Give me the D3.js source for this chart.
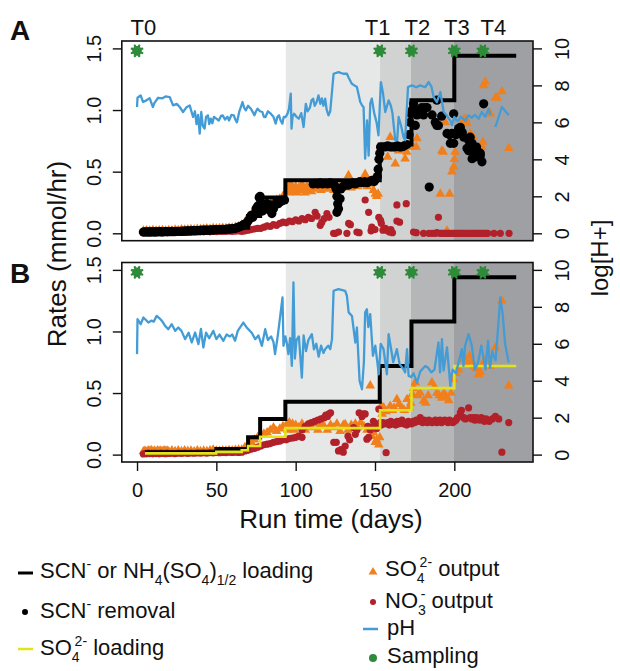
<!DOCTYPE html>
<html>
<head>
<meta charset="utf-8">
<script src="https://cdn.jsdelivr.net/npm/d3@7"></script>
<style>
  body { margin: 0; background: #fff; }
  text { font-family: "Liberation Sans", Arial, Helvetica, sans-serif; fill: #111; }
</style>
</head>
<body>
<svg id="chart" width="620" height="671"></svg>
<script>
// ---- data (days, rates in mmol/hr, pH on right axis) ----
var sampleDays = [0, 153, 173, 200, 218]
var sampleLevel = 1.48
var sampleNames = ['T0', 'T1', 'T2', 'T3', 'T4']
var sampleLabelDays = [4, 151.7, 176.7, 201.6, 224.6]

var zoneEdges = [93.8, 153.2, 172.7, 199.8, 249.6]
var zoneFills = ['#e6e7e7', '#d1d2d2', '#b5b6b7', '#9fa0a3']

var rateTicks = [0, 0.5, 1, 1.5]
var phTicks = [0, 2, 4, 6, 8, 10]
var dayTicks = [0, 50, 100, 150, 200]

// SCN- or NH4(SO4)1/2 loading (step)
var loading = [[5,0.02],[50,0.045],[70,0.14],[77.6,0.29],[93.5,0.43],[153,0.72],[173,1.08],[200,1.44],[239,1.44]]
// SO4 2- loading (step, panel B)
var so4Loading = [[5,0.01],[50,0.022],[66,0.035],[70,0.07],[77.6,0.145],[93.5,0.215],[153.2,0.36],[173,0.54],[200,0.72],[239,0.72]]

// Panel A: SCN- removal
var scnRemovalA = [[4,0.01],[5,0.012],[6,0.01],[7,0.011],[8,0.01],[9,0.012],[10,0.011],[11,0.01],[12,0.012],[13,0.011],[14,0.013],[15,0.012],[16,0.011],[17,0.013],[18,0.014],[19,0.012],[20,0.014],[21,0.013],[22,0.015],[23,0.013],[24,0.014],[25,0.015],[27,0.016],[28,0.015],[29,0.018],[30,0.016],[31,0.019],[32,0.018],[33,0.02],[34,0.018],[35,0.021],[36,0.022],[37,0.02],[38,0.022],[39,0.021],[40,0.023],[41,0.025],[42,0.023],[43,0.025],[44,0.026],[45,0.024],[46,0.026],[47,0.028],[48,0.026],[49,0.029],[50,0.03],[51,0.029],[52,0.031],[53,0.03],[54,0.032],[55,0.031],[56,0.033],[57,0.035],[58,0.034],[59,0.036],[60,0.037],[61,0.039],[62,0.041],[63,0.045],[64,0.05],[65,0.055],[66,0.06],[67,0.068],[68,0.075],[69,0.08],[70,0.1],[71,0.12],[72,0.146],[73,0.13],[74,0.155],[75,0.2],[76,0.22],[77,0.29],[77.6,0.3],[78,0.25],[79,0.18],[79.7,0.2],[80.5,0.23],[81.8,0.24],[82.5,0.2],[83.5,0.19],[84.2,0.23],[85,0.16],[86,0.2],[87,0.23],[88,0.25],[89,0.24],[90,0.255],[91,0.26],[92,0.27],[93,0.27],
  [111,0.4],[112.5,0.405],[114,0.4],[115.5,0.41],[117,0.4],[118.5,0.405],[120,0.4],[121.5,0.41],[123,0.405],[124.5,0.39],[125.5,0.36],[126,0.3],[126.5,0.24],[126,0.17],[127,0.2],[128,0.28],[128.5,0.36],[130,0.38],[131.5,0.4],[133,0.39],[134.5,0.4],[136,0.41],[137.5,0.4],[139,0.41],[140.5,0.42],[142,0.41],[143.5,0.42],[145,0.41],[146.5,0.42],[148,0.43],[149.5,0.42],[150.5,0.44],[151.5,0.46],[152,0.52],[152.5,0.6],[153,0.65],[153.5,0.7],[155,0.7],[156.5,0.7],[158,0.71],[159.5,0.7],[161,0.7],[162.5,0.7],[164,0.71],[165.5,0.7],[167,0.7],[168.5,0.71],[170,0.72],[171.5,0.8],[172,0.9],[172.5,0.97],[173.5,1.0],[174.3,1.05],[175,0.98],[175.4,0.875],[176.5,0.96],[178,1.0],[179.5,1.02],[180.6,0.96],[181.7,1.02],[182.8,1.02],[184.2,0.375],[186,0.96],[188,0.9],[189,1.08],[189,0.875],[190,0.875],[192,0.95],[195.4,0.81],[197,0.8],[197.5,0.73],[198.5,0.81],[199.6,0.97],[199.6,0.73],[201,0.8],[202.7,0.85],[203.8,0.86],[205,0.82],[206,0.78],[208,0.69],[209,0.755],[209,0.67],[210,0.78],[211.2,0.73],[211.2,0.605],[212.2,0.67],[213,0.62],[214,0.7],[215,0.66],[216.4,0.63],[216.4,0.65],[217.4,0.58],[218.5,1.05]]

// Panel A: SO4 2- output
var so4OutA = [[4,0.02],[6,0.022],[8,0.02],[10,0.025],[12,0.02],[14,0.022],[16,0.025],[18,0.02],[20,0.025],[22,0.022],[24,0.028],[26,0.025],[28,0.03],[30,0.028],[32,0.03],[34,0.032],[36,0.03],[38,0.035],[40,0.032],[42,0.035],[44,0.038],[46,0.035],[48,0.04],[50,0.038],[52,0.04],[54,0.042],[56,0.04],[58,0.045],[60,0.045],[62,0.05],[64,0.055],[66,0.07],[68,0.09],[70,0.11],[72,0.15],[74,0.17],[76,0.2],[78,0.22],[80,0.24],[82,0.25],[84,0.24],[86,0.26],[88,0.27],[90,0.28],[92,0.3],
  [94,0.34],[95,0.38],[96,0.33],[97,0.4],[98,0.36],[99,0.34],[100,0.38],[101,0.33],[102,0.37],[103,0.35],[104,0.4],[105,0.36],[106,0.33],[107,0.38],[108,0.35],[109,0.37],[110,0.34],[111,0.39],[112,0.36],[114,0.38],[116,0.35],[118,0.38],[120,0.36],[122,0.38],[124,0.35],[126,0.37],[128,0.38],[130,0.4],[132,0.38],[133.3,0.47],[135,0.37],[137,0.4],[139,0.38],[141,0.4],[143.8,0.48],[145,0.38],[147,0.4],[149,0.35],[150.2,0.32],[151,0.3],[152,0.32],
  [158,0.62],[159.6,0.78],[162.8,0.565],[164.9,0.67],[169,0.605],[170,0.66],[174,0.7],[176.5,0.77],[176,0.7],[188,0.89],[191.2,0.32],[192.2,0.67],[193,0.66],[194.3,0.9],[195.4,0.02],[197,0.32],[198.5,0.5],[199.6,0.54],[200,0.6],[200.5,0.66],[205.9,0.92],[207,0.93],[208,0.89],[210,0.81],[212,0.78],[217.4,0.7],[218,0.74],[218.5,1.2],[219.5,1.23],[222.7,0.97],[225.9,1.1],[227,1.1],[230,1.15],[234.3,0.69]]

// Panel A: NO3- output
var no3OutA = [[4,0.005],[6,0.008],[8,0.005],[10,0.01],[12,0.006],[14,0.008],[16,0.005],[18,0.01],[20,0.008],[22,0.006],[24,0.01],[26,0.008],[28,0.01],[30,0.012],[32,0.01],[34,0.012],[36,0.01],[38,0.014],[40,0.012],[42,0.012],[44,0.015],[46,0.012],[48,0.015],[50,0.014],[52,0.016],[54,0.015],[56,0.016],[58,0.018],[60,0.016],[62,0.018],[64,0.02],[66,0.015],[68,0.02],[70,0.025],[72,0.03],[74,0.035],[76,0.04],[78,0.04],[80,0.05],[82,0.06],[84,0.055],[86,0.07],[88,0.065],[90,0.08],[92,0.09],[94,0.085],
  [96,0.1],[98,0.095],[100,0.11],[102,0.1],[104,0.12],[106,0.11],[108,0.13],[110,0.12],[112.3,0.17],[113.5,0.14],[115.5,0.065],[116.5,0.09],[118,0.12],[119.7,0.16],[121,0.13],
  [123.9,0.0],[125,0.0],[127,0.01],[132.3,0.0],[133.4,0.08],[134.5,0.07],[138.6,0.01],[140,0.005],[143.8,0.27],[146,0.17],[147.5,0.02],[148,0.05],[150,0.03],[152.4,0.13],[153.5,0.105],[154,0.08],[155,0.025],[156.5,0.04],[157.5,0.025],[159,0.01],[160,0.03],[161,0.005],[163.8,0.23],[163.8,0.1],[165.5,0.09],[169.7,0.24],[174.3,0.01],[176,0.005],[180.6,0.0],[184,0.0],[186,0.0],[188,0.0],[189,0.005],[190,0.13],[191,0.0],[192,0.0],[193,0.0],[194,0.0],[195,0.0],[196,0.0],[197,0.0],[198,0.0],[199,0.0],[200,0.0],[201,0.0],[202,0.0],[203,0.0],[204,0.0],[205,0.0],[206,0.0],[207,0.0],[208,0.0],[209,0.0],[210,0.0],[211,0.0],[212,0.0],[213,0.0],[214,0.0],[215,0.0],[216,0.0],[217,0.0],[218,0.0],[219,0.0],[220,0.0],[221,0.0],[225,0.0],[229,0.0],[234.5,0.0]]

// Panel A: pH (NaN = gap)
var phA = [[0,6.83],[0.3,7.33],[2.3,7.46],[3.8,7.1],[5.9,7.19],[8,7.3],[10,6.83],[11,7.05],[13.3,7.33],[16,7.3],[18,7.4],[20.6,7.37],[22.7,6.92],[25,7.0],[26.9,6.83],[29,6.56],[31,6.8],[33.2,6.92],[35.3,6.29],[36.5,6.6],[37.5,5.9],[38.5,6.4],[39.5,5.39],[40.5,6.56],[41.5,5.8],[42.6,5.66],[43.5,6.3],[44.7,6.38],[45.5,5.9],[46.5,6.2],[47.5,5.95],[48.5,6.3],[50,6.2],[51.5,6.1],[53,6.35],[54,6.38],[55.5,6.15],[57,6.3],[58,6.1],[59.5,6.4],[61,6.38],[62,6.15],[63,6.0],[64.5,6.6],[66.5,7.1],[67.5,6.8],[68.6,6.65],[70,6.9],[71.7,6.74],[73,6.55],[74,6.38],[75,6.6],[76,6.74],[77.5,6.6],[79,6.56],[80,6.3],[81,6.29],[82.5,6.6],[84.3,6.47],[86,6.3],[87.4,5.93],[88.5,6.3],[89.5,6.38],[90.5,6.1],[91.6,5.93],[92.5,6.3],[93.7,6.29],[95,6.5],[95.8,6.74],[96.9,7.55],[97.4,5.66],[98,6.3],[99,6.47],[100.5,6.3],[102,6.2],[103.5,6.5],[105,5.75],[106.4,7.0],[107.5,6.6],[109,6.8],[110,7.19],[111,7.28],[112,6.9],[113.2,7.1],[114.4,7.46],[115.5,7.0],[116.5,7.3],[117.5,6.9],[118.6,7.28],[119.5,6.7],[120.7,6.38],[121.8,6.6],[123.9,8.63],[127,8.72],[130,8.63],[132.3,8.63],[133.5,8.4],[135.4,8.09],[137,8.0],[138.6,7.91],[140.7,7.1],[142,6.9],[142.8,6.83],[143.8,4.04],[145,6.1],[146,4.2],[147,7.01],[148,7.28],[149.5,6.5],[151,6.0],[152.2,5.3],[153.7,8.18],[155,7.6],[156.5,6.56],[158.6,7.19],[160,6.9],[161,6.5],[162.8,5.03],[164,5.05],[164.9,6.29],[166.5,5.8],[168,5.2],[169,5.03],[170.8,7.91],[173.3,8.0],[176,7.9],[178.5,8.0],[180,7.95],[181.7,7.91],[183.8,8.18],[185.5,7.95],[187,7.37],[189,7.1],[191.2,7.64],[193.3,6.56],[195,6.4],[196.5,6.2],[197.5,6.1],[198.5,5.84],[200,6.3],[201.5,6.1],[202.7,6.1],[204,6.3],[205.5,6.2],[207,6.1],[209,6.38],[211,6.25],[213,6.4],[215.3,6.2],[217.4,6.56],[219.5,6.3],[221.6,6.74],[222.6,6.4],[224,NaN],[225.9,5.75],[230,6.83],[234.3,6.38]]

// Panel B: SO4 2- output
var so4OutB = [[4,0.025],[5,0.03],[6,0.02],[7,0.032],[8,0.028],[9,0.035],[10,0.025],[11,0.03],[12,0.022],[13,0.033],[14,0.027],[15,0.03],[16,0.024],[17,0.034],[18,0.028],[19,0.031],[20,0.025],[22,0.033],[24,0.027],[26,0.032],[28,0.026],[30,0.034],[32,0.028],[34,0.031],[36,0.025],[38,0.033],[40,0.027],[42,0.03],[44,0.026],[46,0.032],[48,0.04],[50,0.03],[52,0.028],[54,0.033],[56,0.03],[58,0.035],[60,0.032],[62,0.038],[64,0.04],
  [66,0.04],[68,0.06],[70,0.08],[72,0.1],[74,0.12],[76,0.14],[78,0.16],[80,0.17],[82,0.18],[84,0.2],[86,0.22],[88,0.19],[90,0.21],[92,0.23],
  [94,0.24],[95,0.2],[96,0.26],[97,0.22],[98,0.25],[99,0.2],[100,0.24],[102,0.22],[104,0.25],[106,0.2],[108,0.24],[110,0.22],[112,0.25],[114,0.2],[116,0.24],[118,0.23],[120,0.2],[122,0.24],[124,0.22],[126,0.25],[128,0.19],[130,0.24],[131.2,0.246],[133,0.2],[135,0.24],[137.6,0.25],[139,0.22],[141,0.26],[143,0.23],[145,0.2],[147,0.56],[148,0.15],[149,0.18],[150.2,0.1],[151,0.12],[152.4,0.08],[153,0.14],
  [154,0.395],[154.5,0.33],[155.5,0.38],[157,0.35],[159.6,0.395],[161,0.36],[162,0.38],[163.8,0.45],[165,0.41],[167,0.38],[168.5,0.36],[170.2,0.45],[171.5,0.38],[172.5,0.42],
  [173.5,0.49],[174.5,0.54],[175.4,0.585],[177,0.48],[178.5,0.5],[180.6,0.436],[182,0.42],[183.5,0.48],[185.9,0.585],[187.5,0.55],[189,0.5],[190.5,0.48],[192,0.46],[193.5,0.5],[195,0.47],[196.5,0.44],[198,0.5],[199.6,0.61],
  [201,0.66],[202.7,0.69],[204.8,0.775],[206.5,0.78],[208,0.74],[209.5,0.8],[211,0.76],[212.5,0.72],[214,0.7],[215.3,0.65],[216.4,0.67],[218,0.74],[219.5,0.76],[221,0.8],[222.5,0.72],[225.9,0.87],[230,1.25],[234.3,0.56]]

// Panel B: NO3- output
var no3OutB = [[4,0.005],[5,0.01],[6,0.006],[7,0.012],[8,0.008],[9,0.01],[10,0.006],[11,0.012],[12,0.008],[13,0.01],[14,0.006],[15,0.012],[16,0.009],[17,0.011],[18,0.007],[19,0.012],[20,0.009],[22,0.011],[24,0.008],[26,0.012],[28,0.01],[30,0.013],[32,0.01],[34,0.013],[36,0.011],[38,0.014],[40,0.012],[42,0.015],[44,0.012],[46,0.016],[48,0.014],[50,0.017],[52,0.015],[54,0.018],[56,0.016],[58,0.019],[60,0.017],[62,0.02],[64,0.018],
  [66,0.02],[68,0.03],[70,0.035],[72,0.045],[74,0.05],[76,0.06],[78,0.07],[80,0.08],[82,0.085],[84,0.09],[86,0.1],[88,0.105],[90,0.11],[92,0.12],[94,0.12],[96,0.13],[98,0.135],[100,0.14],[102,0.15],[104,0.14],
  [104,0.2],[106,0.23],[108,0.25],[110,0.26],[112,0.27],[114,0.28],[116,0.29],[118,0.3],[119,0.32],[120,0.31],[121,0.33],[122,0.34],
  [124,0.1],[125.6,0.1],[127,0.03],[128.5,0.04],[130,0.02],[131.2,0.07],[133,0.15],[134,0.12],[136.5,0.22],[137.6,0.165],[138.6,0.2],[140,0.34],[141.8,0.31],[142.8,0.33],[143.8,0.33],[144.9,0.125],[145.5,0.23],[146,0.14],[147,0.2],[148,0.22],[149,0.27],[150.2,0.25],[151,0.21],[152.4,0.37],[153.3,0.26],
  [154,0.24],[155,0.26],[156,0.25],[157,0.016],[158,0.26],[159,0.24],[160,0.27],[161,0.25],[162,0.26],[163,0.24],[164,0.27],[165,0.25],[166,0.26],[167,0.28],[168,0.25],[169,0.26],[170,0.24],[171,0.27],[172,0.26],[173,0.25],[174,0.27],[175,0.26],[176,0.28],[177,0.27],[178.5,0.3],[179,0.27],[180,0.26],[181,0.28],[182,0.27],[183,0.26],[184,0.28],[185,0.27],[186,0.26],[187,0.27],[188,0.28],[189,0.26],[190,0.27],[191,0.28],[192,0.26],[193,0.27],[194,0.28],[195,0.27],[196,0.26],[197,0.28],[198,0.27],[199,0.26],[200,0.27],[201,0.28],[202,0.3],[203.8,0.34],[204.5,0.36],[206,0.3],[207,0.29],[209,0.38],[210,0.3],[211,0.29],[212,0.3],[213,0.28],[214,0.3],[215,0.29],[216,0.28],[217,0.3],[218,0.29],[219,0.27],[220,0.29],[221,0.28],[222,0.27],[224,0.29],[225.9,0.31],[228,0.29],[230,0.02],[234.3,0.26]]

// Panel B: pH
var phB = [[0,5.44],[0.3,7.33],[2.3,7.06],[4,7.42],[5.5,7.3],[7.1,7.15],[9,7.25],[10.5,7.2],[12.4,7.51],[14.5,7.35],[16,7.2],[17.7,6.97],[19.7,6.79],[21.9,7.06],[24,6.7],[26,6.88],[28,6.7],[30.3,6.25],[32.5,6.6],[34.5,6.07],[36.6,6.61],[38.7,5.98],[40.3,6.8],[41.8,5.8],[43.5,6.6],[45.5,6.3],[48.1,6.7],[50,6.25],[52,6.5],[54.4,6.16],[56.5,6.5],[58.5,6.4],[60,6.5],[61.8,6.16],[63.5,6.7],[67,7.15],[69,6.9],[72.4,6.58],[74.5,6.25],[76.5,6.45],[78.7,5.89],[80.8,6.79],[82.5,6.2],[84.5,6.4],[86,6.1],[87,5.44],[88.5,6.3],[89.1,6.7],[91.7,8.51],[92.3,5.89],[93.5,6.4],[94.5,6.0],[95.4,5.44],[96.5,6.3],[97.6,4.8],[98.6,9.32],[99.5,5.2],[100.5,6.2],[102,6.4],[103.9,4.17],[105,6.45],[106.5,5.6],[108,6.2],[110.2,6.52],[111.5,5.7],[113,6.0],[114.5,5.3],[116,5.9],[117.5,5.5],[118.6,5.71],[120.5,5.9],[121.8,5.71],[122.9,6.25],[123.9,8.87],[127,8.96],[131.2,8.87],[132.3,8.6],[133.4,7.7],[135.5,7.5],[137.6,6.07],[138.6,6.88],[140.3,3.99],[141.8,3.54],[143,5.0],[143.8,7.7],[144.9,7.87],[145.8,6.9],[147,7.6],[148.7,5.35],[150.2,5.9],[152.4,4.35],[153.6,6.0],[155.4,5.71],[157.5,4.35],[158.6,6.52],[160,5.8],[161.5,5.0],[163.8,5.71],[165.5,4.9],[168,4.62],[169,4.45],[170.2,5.71],[171.2,4.26],[172.8,4.2],[174.3,4.4],[176.5,3.9],[178.5,4.5],[181.7,4.8],[183.5,4.7],[185.5,4.45],[187.5,4.6],[190,6.07],[191,4.45],[192.2,6.25],[193.2,4.55],[195.4,5.8],[197.5,3.72],[198.2,4.3],[199,4.6],[201,4.4],[204.8,5.71],[205.8,4.8],[206.8,5.9],[209,6.52],[211,5.9],[213,4.6],[215,5.0],[217,5.9],[219.6,4.62],[221.3,6.16],[222.5,4.7],[224,5.6],[225,5.3],[226,5.1],[227.9,7.24],[229,8.51],[230.5,7.6],[232,6.0],[234.3,4.98]]

// ---- colours ----
var colBlack = '#000'
var colOrange = '#f07f1c'
var colRed = '#b2202a'
var colBlue = '#439cd6'
var colYellow = '#e1e41a'
var colGreen = '#2e8b3a'

var svg = d3.select('#chart')
var x = d3.scaleLinear().domain([-9.6, 249.6]).range([121.8, 533])

var panels = [
  { name: 'A', top: 41, bottom: 240.7, removal: scnRemovalA, so4: so4OutA, no3: no3OutA, ph: phA, so4Load: null, xAxis: false },
  { name: 'B', top: 262.5, bottom: 462, removal: null, so4: so4OutB, no3: no3OutB, ph: phB, so4Load: so4Loading, xAxis: true }
]

var tri = d3.symbol().type(d3.symbolTriangle).size(40)

// filled round marker with an asterisk on top (bumpy edge)
function drawSampling(g, cx, cy, r) {
  g.append('circle').attr('cx', cx).attr('cy', cy).attr('r', r).attr('fill', colGreen)
  for (var a = 0; a < 4; a++) {
    var ang = a * Math.PI / 4 + Math.PI / 8
    g.append('line')
      .attr('x1', cx - Math.cos(ang) * (r + 0.8)).attr('y1', cy - Math.sin(ang) * (r + 0.8))
      .attr('x2', cx + Math.cos(ang) * (r + 0.8)).attr('y2', cy + Math.sin(ang) * (r + 0.8))
      .attr('stroke', colGreen).attr('stroke-width', 2.4).attr('stroke-linecap', 'round')
  }
}

panels.forEach(function(p) {
  var y = d3.scaleLinear().domain([-0.06, 1.56]).range([p.bottom, p.top])
  var yPh = d3.scaleLinear().domain([-0.4, 10.4]).range([p.bottom, p.top])
  var g = svg.append('g')

  // shaded periods
  g.selectAll('.zone')
    .data(zoneFills)
    .enter()
    .append('rect')
    .attr('x', (d, i) => x(zoneEdges[i]))
    .attr('width', (d, i) => x(zoneEdges[i + 1]) - x(zoneEdges[i]))
    .attr('y', p.top)
    .attr('height', p.bottom - p.top)
    .attr('fill', d => d)

  // SO4 2- output
  g.selectAll('.so4')
    .data(p.so4)
    .enter()
    .append('path')
    .attr('d', tri)
    .attr('transform', d => 'translate(' + x(d[0]) + ',' + y(d[1]) + ')')
    .attr('fill', colOrange)

  // NO3- output
  g.selectAll('.no3')
    .data(p.no3)
    .enter()
    .append('circle')
    .attr('cx', d => x(d[0]))
    .attr('cy', d => y(d[1]))
    .attr('r', 3.6)
    .attr('fill', colRed)

  // SCN- removal
  if (p.removal) {
    g.selectAll('.rem')
      .data(p.removal)
      .enter()
      .append('circle')
      .attr('cx', d => x(d[0]))
      .attr('cy', d => y(d[1]))
      .attr('r', 4.6)
      .attr('fill', colBlack)
  }

  var step = d3.line().x(d => x(d[0])).y(d => y(d[1])).curve(d3.curveStepAfter)
  g.append('path').attr('d', step(loading))
    .attr('fill', 'none').attr('stroke', colBlack).attr('stroke-width', 4)
  if (p.so4Load) {
    g.append('path').attr('d', step(p.so4Load))
      .attr('fill', 'none').attr('stroke', colYellow).attr('stroke-width', 2.6)
  }

  // pH
  var phLine = d3.line().defined(d => !isNaN(d[1])).x(d => x(d[0])).y(d => yPh(d[1]))
  g.append('path').attr('d', phLine(p.ph))
    .attr('fill', 'none').attr('stroke', colBlue).attr('stroke-width', 2.3)
    .attr('stroke-linejoin', 'round')

  // sampling points
  sampleDays.forEach(function(d) { drawSampling(g, x(d), y(sampleLevel), 4.8) })

  // box
  g.append('rect').attr('x', x.range()[0]).attr('y', p.top)
    .attr('width', x.range()[1] - x.range()[0]).attr('height', p.bottom - p.top)
    .attr('fill', 'none').attr('stroke', '#111').attr('stroke-width', 1.6)

  // left axis
  var ax = g.append('g').attr('transform', 'translate(' + x.range()[0] + ',0)')
    .call(d3.axisLeft(y).tickValues(rateTicks).tickFormat(d3.format('.1f')).tickSize(9))
  ax.select('.domain').remove()
  ax.selectAll('line').attr('stroke', '#111').attr('stroke-width', 1.4)
  ax.selectAll('text').attr('x', null).attr('dy', null)
    .attr('transform', 'translate(-21,0) rotate(-90)')
    .attr('text-anchor', 'middle').style('font-size', '20px').attr('fill', '#111')

  // right axis
  var ar = g.append('g').attr('transform', 'translate(' + x.range()[1] + ',0)')
    .call(d3.axisRight(yPh).tickValues(phTicks).tickSize(9))
  ar.select('.domain').remove()
  ar.selectAll('line').attr('stroke', '#111').attr('stroke-width', 1.4)
  ar.selectAll('text').attr('x', null).attr('dy', null)
    .attr('transform', 'translate(36,0) rotate(-90)')
    .attr('text-anchor', 'middle').style('font-size', '20px').attr('fill', '#111')

  if (p.xAxis) {
    var ab = g.append('g').attr('transform', 'translate(0,' + p.bottom + ')')
      .call(d3.axisBottom(x).tickValues(dayTicks).tickSize(9))
    ab.select('.domain').remove()
    ab.selectAll('line').attr('stroke', '#111').attr('stroke-width', 1.4)
    ab.selectAll('text').attr('y', 21).style('font-size', '20px').attr('fill', '#111')
  }

  // panel letter
  svg.append('text').attr('x', 10).attr('y', p.top - 1 + (p.name === 'B' ? 21 : 0))
    .style('font-size', '28px').style('font-weight', 'bold').text(p.name)
})

// sampling labels
svg.selectAll('.tlab')
  .data(sampleNames)
  .enter()
  .append('text')
  .attr('x', (d, i) => x(sampleLabelDays[i]))
  .attr('y', 35)
  .attr('text-anchor', 'middle')
  .style('font-size', '22px')
  .text(d => d)

// axis titles
svg.append('text').attr('transform', 'translate(66,254) rotate(-90)')
  .attr('text-anchor', 'middle').style('font-size', '26px').text('Rates (mmol/hr)')
svg.append('text').attr('transform', 'translate(608,258) rotate(-90)')
  .attr('text-anchor', 'middle').style('font-size', '24px').text('log[H+]')
svg.append('text').attr('x', 331).attr('y', 528)
  .attr('text-anchor', 'middle').style('font-size', '26px').text('Run time (days)')

// legend; each part: [text, 'base'|'sub'|'sup', dx]
var leg = svg.append('g')
var shift = { base: 0, sub: 7, sup: -9 }
function legText(xp, yp, parts) {
  var t = leg.append('text').attr('x', xp).attr('y', yp).style('font-size', '22px')
  var cur = 0
  parts.forEach(function(pt) {
    var pos = pt[1] || 'base'
    var s = t.append('tspan').text(pt[0])
    if (shift[pos] !== cur) s.attr('dy', shift[pos] - cur)
    cur = shift[pos]
    if (pos !== 'base') s.style('font-size', '14px')
    if (pt[2]) s.attr('dx', pt[2])
  })
}
leg.append('line').attr('x1', 18).attr('x2', 33).attr('y1', 573).attr('y2', 573)
  .attr('stroke', colBlack).attr('stroke-width', 3)
legText(40, 578, [['SCN'], ['-', 'sup'], [' or NH'], ['4', 'sub'], ['(SO'], ['4', 'sub'], [')'], ['1/2', 'sub'], [' loading']])
leg.append('circle').attr('cx', 25).attr('cy', 612).attr('r', 3).attr('fill', colBlack)
legText(40, 618, [['SCN'], ['-', 'sup'], [' removal']])
leg.append('line').attr('x1', 18).attr('x2', 33).attr('y1', 649).attr('y2', 649)
  .attr('stroke', colYellow).attr('stroke-width', 2.5)
legText(40, 655, [['SO'], ['4', 'sub'], ['2-', 'sup', -5], [' loading']])

leg.append('path').attr('d', d3.symbol().type(d3.symbolTriangle).size(34))
  .attr('transform', 'translate(373,572)').attr('fill', colOrange)
legText(385, 576, [['SO'], ['4', 'sub'], ['2-', 'sup', -5], [' output']])
leg.append('circle').attr('cx', 373).attr('cy', 602).attr('r', 3).attr('fill', colRed)
legText(385, 608, [['NO'], ['3', 'sub'], ['-', 'sup', -5], [' output']])
leg.append('line').attr('x1', 363).attr('x2', 378).attr('y1', 629).attr('y2', 629)
  .attr('stroke', colBlue).attr('stroke-width', 2.5)
legText(387, 635, [['pH']])
leg.append('circle').attr('cx', 373).attr('cy', 658).attr('r', 4).attr('fill', colGreen)
legText(387, 663, [['Sampling']])
</script>
</body>
</html>
